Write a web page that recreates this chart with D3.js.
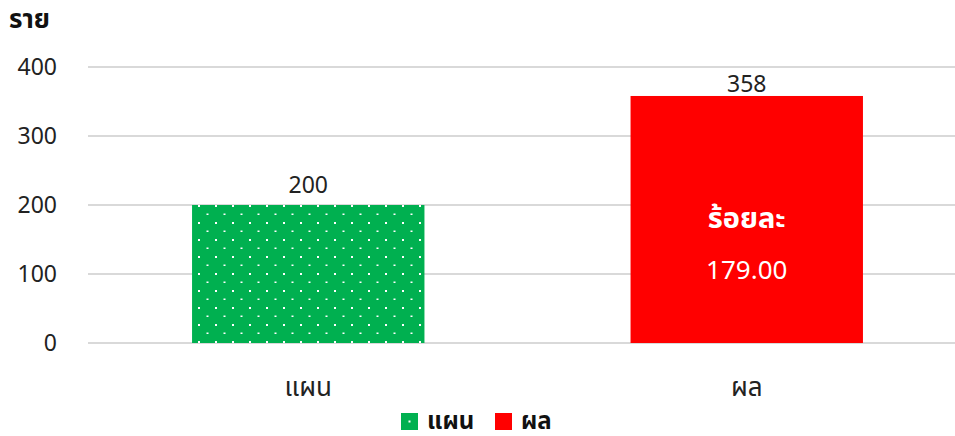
<!DOCTYPE html>
<html><head><meta charset="utf-8">
<script src="https://cdn.jsdelivr.net/npm/d3@7"></script>
<style>
body{margin:0;background:#fff;}
svg text{font-family:"Noto Sans","Noto Sans Thai",Tahoma,sans-serif;}
</style></head>
<body><svg id="c" width="955" height="436"></svg>
<script>
const categories = ["แผน", "ผล"];
const values = [200, 358];
const yTicks = [0, 100, 200, 300, 400];
const percentLabel = "ร้อยละ";
const percentValue = "179.00";
const yTitle = "ราย";

const svg = d3.select("#c");
const defs = svg.append("defs");
const pat = defs.append("pattern").attr("id","dots").attr("patternUnits","userSpaceOnUse")
  .attr("width",17).attr("height",17).attr("x",192).attr("y",205);
pat.append("rect").attr("width",17).attr("height",17).attr("fill","#00B050");
pat.append("rect").attr("x",6).attr("y",0).attr("width",2).attr("height",2).attr("fill","#fff");
pat.append("rect").attr("x",14.5).attr("y",8.5).attr("width",2).attr("height",1.5).attr("fill","#fff");

const colors = ["url(#dots)", "#FF0000"];

const x = d3.scaleBand().domain(categories).range([89, 966]).paddingInner(0.47).paddingOuter(0.235);
const y = d3.scaleLinear().domain([0, 400]).range([343, 67]);

// gridlines
svg.append("g").selectAll("line").data(yTicks).join("line")
  .attr("x1",88).attr("x2",966).attr("y1",d=>y(d)).attr("y2",d=>y(d))
  .attr("stroke","#d9d9d9").attr("stroke-width",2);

// y tick labels
svg.append("g").selectAll("text").data(yTicks).join("text")
  .attr("x",57).attr("y",d=>y(d)).attr("dy","0.36em").attr("text-anchor","end")
  .attr("font-size",23).attr("fill","#222").text(d=>d);

svg.append("text").attr("x",9).attr("y",28).attr("font-size",26).attr("font-weight","bold")
  .attr("fill","#111").text(yTitle);

// bars
svg.append("g").selectAll("rect").data(values).join("rect")
  .attr("x",(d,i)=>x(categories[i])).attr("width",x.bandwidth())
  .attr("y",d=>y(d)).attr("height",d=>y(0)-y(d))
  .attr("fill",(d,i)=>colors[i]);

// value labels (clamped near plot top like the original)
svg.append("g").selectAll("text").data(values).join("text")
  .attr("x",(d,i)=>x(categories[i])+x.bandwidth()/2)
  .attr("y",d=>Math.max(y(d)-12, y(400)+25))
  .attr("text-anchor","middle").attr("font-size",23).attr("fill","#222").text(d=>d);

// inside red bar
const cx = x(categories[1]) + x.bandwidth()/2;
svg.append("text").attr("x",cx).attr("y",228).attr("text-anchor","middle")
  .attr("font-size",29).attr("font-weight","bold").attr("fill","#fff").text(percentLabel);
svg.append("text").attr("x",cx).attr("y",279).attr("text-anchor","middle")
  .attr("font-size",26).attr("fill","#fff").text(percentValue);

// category labels
svg.append("g").selectAll("text").data(categories).join("text")
  .attr("x",d=>x(d)+x.bandwidth()/2).attr("y",396)
  .attr("text-anchor","middle").attr("font-size",26).attr("fill","#222").text(d=>d);

// legend
const legX = [401, 495];
const lg = svg.append("g").selectAll("g").data(categories).join("g")
  .attr("transform",(d,i)=>`translate(${legX[i]},413)`);
lg.append("rect").attr("width",17).attr("height",17).attr("fill",(d,i)=>i===0?"#00B050":"#FF0000");
lg.filter((d,i)=>i===0).append("rect").attr("x",7.5).attr("y",7.5).attr("width",2).attr("height",2).attr("fill","#fff");
lg.append("text").attr("x",26).attr("y",16).attr("font-size",24).attr("font-weight","bold")
  .attr("fill","#111").text(d=>d);
</script></body></html>
